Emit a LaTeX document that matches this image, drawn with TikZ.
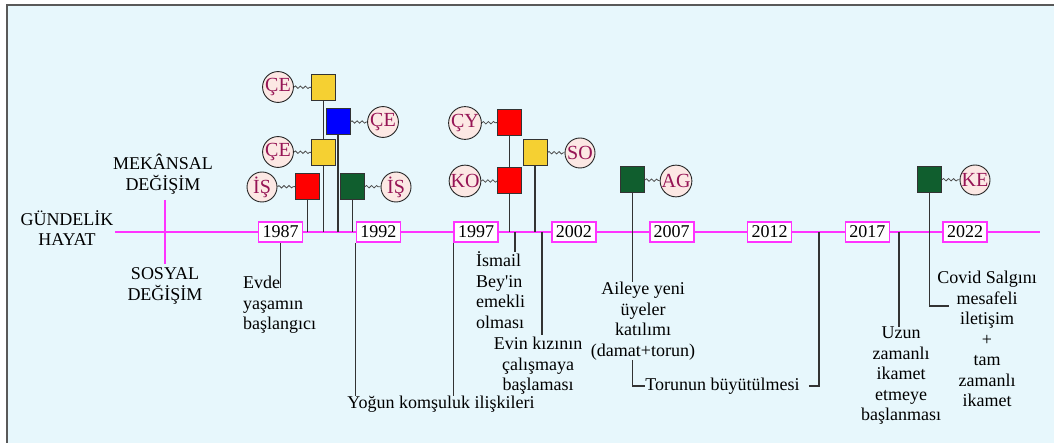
\documentclass[tikz,border=0pt]{standalone}
\usepackage{fontspec}
\setmainfont{Liberation Serif}
\usetikzlibrary{decorations.pathmorphing}

\definecolor{bgcyan}{RGB}{231,247,252}
\definecolor{tlmag}{RGB}{255,51,255}
\definecolor{sqyellow}{RGB}{245,208,50}
\definecolor{sqblue}{RGB}{0,0,255}
\definecolor{sqred}{RGB}{255,0,0}
\definecolor{sqgreen}{RGB}{16,94,46}
\definecolor{circpink}{RGB}{252,232,228}
\definecolor{labred}{RGB}{150,20,85}

\begin{document}
\begin{tikzpicture}[x=1pt,y=-1pt,
	font=\rmfamily\fontsize{18}{20.5}\selectfont,
	yearbox/.style={draw=tlmag, line width=1.6pt, fill=white, minimum width=44pt, minimum height=20pt, inner sep=1pt},
	sq/.style={draw=black!80, line width=1pt, minimum width=24pt, minimum height=26pt, inner sep=0pt},
	circ/.style={circle, draw=black!85, line width=0.9pt, fill=circpink, text=labred, minimum size=30pt, inner sep=0pt, font=\rmfamily\fontsize{20}{22}\selectfont},
	wig/.style={draw=black!70, line width=0.8pt, decorate, decoration={snake, amplitude=1.2pt, segment length=5pt}},
	stem/.style={draw=black!80, line width=1.3pt},
	lbl/.style={align=center, inner sep=0pt}]
	\useasboundingbox (0,0) rectangle (1054,443);
	\fill[bgcyan] (7,5) rectangle (1054,443);
	\draw[black!65, line width=2pt] (7,443) -- (7,5) -- (1054,5);
	
	% eksenler
	\coordinate (tl) at (0,232);
	\draw[tlmag, line width=1.5pt] (115,232) -- (1040,232);
	\draw[tlmag, line width=1.5pt] (165,200) -- (165,264);
	\node[lbl] (mek) at (163,174) {MEKÂNSAL\\DEĞİŞİM};
	\node[lbl] (gh) at (67,228) {GÜNDELİK\\HAYAT};
	\node[lbl] (sos) at (165,286) {SOSYAL\\DEĞİŞİM};
	
	% kareler
	\node[sq, fill=sqyellow] (s1) at (323.5,87.5) {};
	\node[sq, fill=sqblue] (s2) at (338,122) {};
	\node[sq, fill=sqyellow] (s3) at (323.5,152.5) {};
	\node[sq, fill=sqred] (s4) at (307.5,186.5) {};
	\node[sq, fill=sqgreen] (s5) at (352.5,186.5) {};
	\node[sq, fill=sqred] (s6) at (509.5,122.5) {};
	\node[sq, fill=sqyellow] (s7) at (535,152.5) {};
	\node[sq, fill=sqred] (s8) at (509.5,181) {};
	\node[sq, fill=sqgreen] (s9) at (632.5,179.5) {};
	\node[sq, fill=sqgreen] (s10) at (929.5,179.5) {};
	
	% alt etiketler
	\node[lbl, align=left, anchor=west] (evde) at (243,305) {Evde\\yaşamın\\başlangıcı};
	\node[lbl] (yogun) at (441,404) {Yoğun komşuluk ilişkileri};
	\node[lbl, align=left, anchor=west] (ismail) at (476,290) {İsmail\\Bey\textquotesingle in\\emekli\\olması};
	\node[lbl] (evin) at (538,366) {Evin kızının\\çalışmaya\\başlaması};
	\node[lbl] (aile) at (643,321) {Aileye yeni\\üyeler\\katılımı\\(damat+torun)};
	\node[lbl] (torun) at (722.5,386) {Torunun büyütülmesi};
	\node[lbl] (uzun) at (901,376) {Uzun\\zamanlı\\ikamet\\etmeye\\başlanması};
	\node[lbl] (covid) at (987,339) {Covid Salgını\\mesafeli\\iletişim\\+\\tam\\zamanlı\\ikamet};
	
	\coordinate (t97) at (515,232);
	\coordinate (t02) at (542,232);
	\coordinate (t12) at (819,232);
	\coordinate (t17) at (899,232);
	\coordinate (cv) at (949,306);
	
	% cizgiler
	\foreach \s in {s1,s2,s4,s5,s6,s7}
		\draw[stem] (\s.south) -- (\s |- tl);
	\draw[stem] (s9.south) -- (s9 |- aile.north);
	\draw[stem] (s9 |- aile.south) |- (torun.west);
	\draw[stem] ([xshift=9pt]torun.east) -| (t12);
	\draw[stem] (s10.south) |- (cv);
	\draw[stem] (t97) -- (t97 |- ismail.north);
	\draw[stem] (t02) -- ++(0,103);
	\draw[stem] (t17) -- (t17 |- uzun.north);
	
	\foreach \yr [count=\i from 0] in {1987,1992,...,2022}
		\node[yearbox] (y\yr) at ({280.5+97.8*\i},232) {\yr};
	\draw[stem] (y1987.south) -- ++(0,45);
	\draw[stem] (y1992.south west) -- (y1992.south west |- yogun.north);
	\draw[stem] (y1997.south west) -- (y1997.south west |- yogun.north);
	
	% kareler tekrar (cizgilerin ustunde)
	\node[sq, fill=sqyellow] at (s1) {};
	\node[sq, fill=sqblue] at (s2) {};
	\node[sq, fill=sqyellow] at (s3) {};
	\node[sq, fill=sqred] at (s4) {};
	\node[sq, fill=sqgreen] at (s5) {};
	\node[sq, fill=sqred] at (s6) {};
	\node[sq, fill=sqyellow] at (s7) {};
	\node[sq, fill=sqred] at (s8) {};
	\node[sq, fill=sqgreen] at (s9) {};
	\node[sq, fill=sqgreen] at (s10) {};
	
	% daireler
	\node[circ] (c1) at (278,87) {ÇE};
	\node[circ] (c2) at (383,122) {ÇE};
	\node[circ] (c3) at (278,152) {ÇE};
	\node[circ] (c4) at (262,187) {İŞ};
	\node[circ] (c5) at (396,187) {İŞ};
	\node[circ] (c6) at (465,123) {ÇY};
	\node[circ] (c7) at (580,153) {SO};
	\node[circ] (c8) at (465,181) {KO};
	\node[circ] (c9) at (676,181) {AG};
	\node[circ] (c10) at (975,180) {KE};
	
	\draw[wig] (c1) -- (s1);
	\draw[wig] (s2) -- (c2);
	\draw[wig] (c3) -- (s3);
	\draw[wig] (c4) -- (s4);
	\draw[wig] (s5) -- (c5);
	\draw[wig] (c6) -- (s6);
	\draw[wig] (s7) -- (c7);
	\draw[wig] (c8) -- (s8);
	\draw[wig] (s9) -- (c9);
	\draw[wig] (s10) -- (c10);
\end{tikzpicture}
\end{document}
